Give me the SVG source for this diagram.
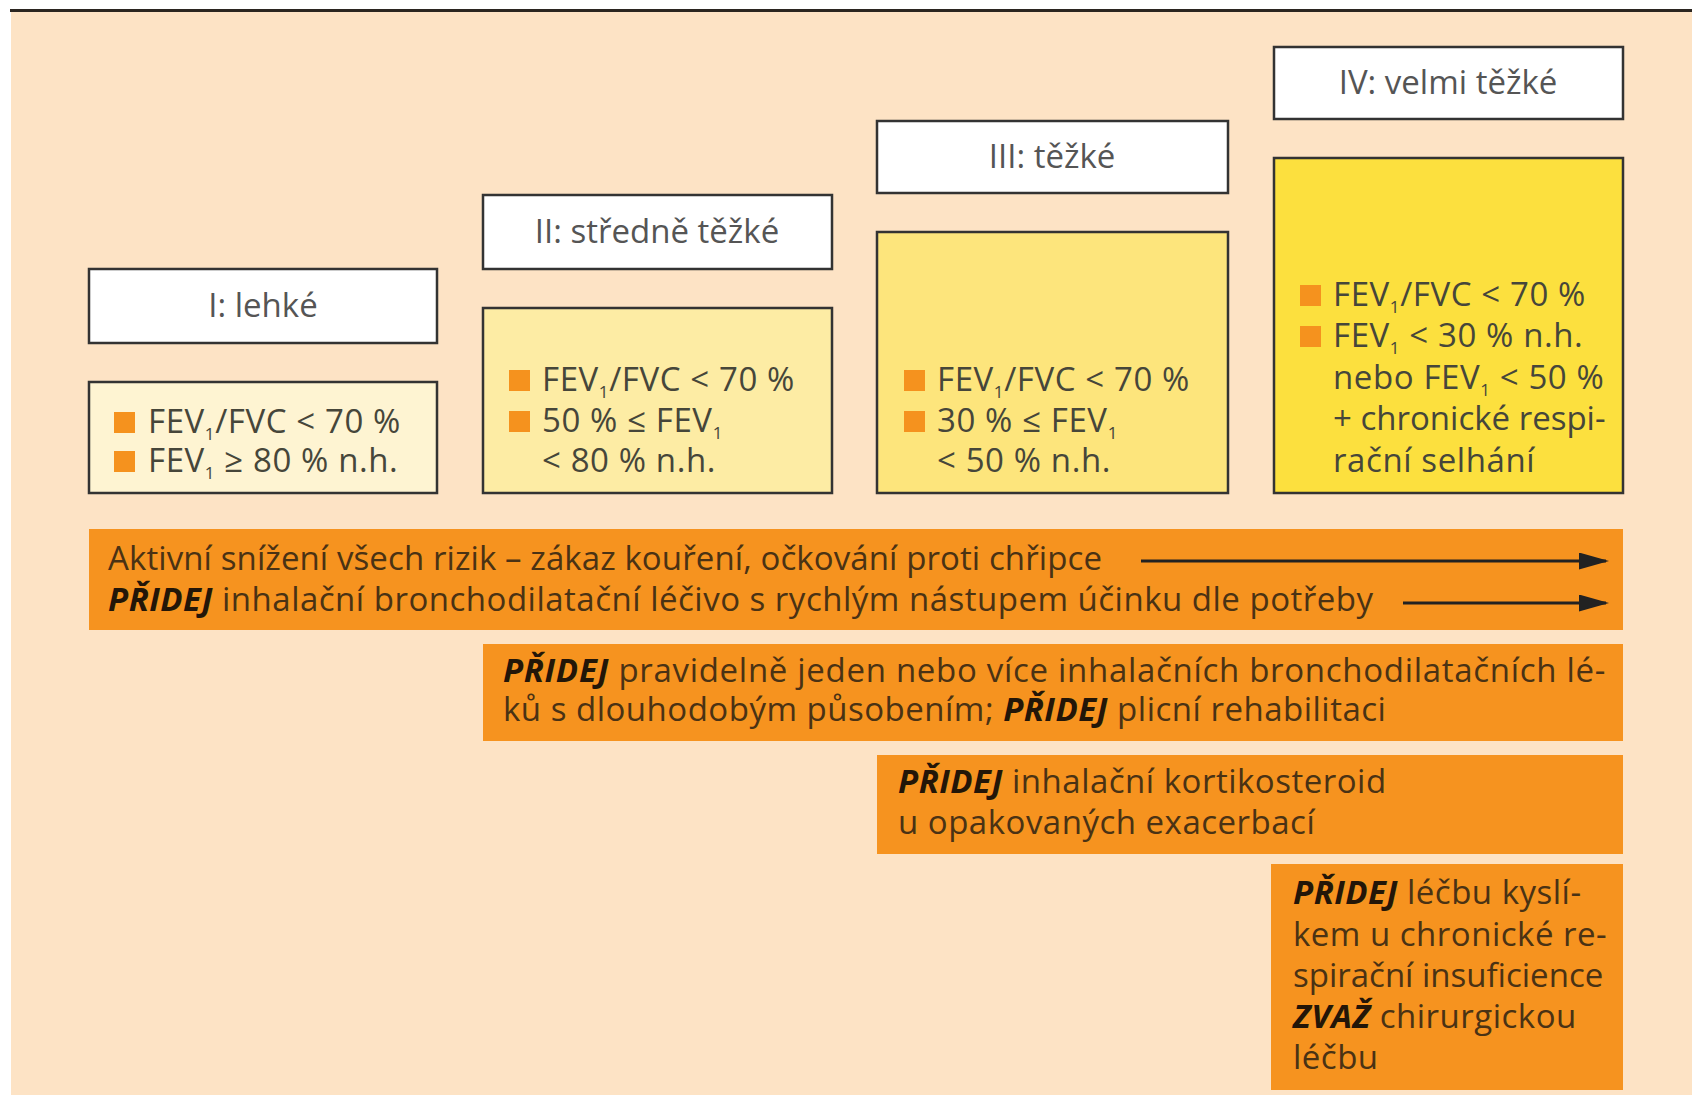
<svg xmlns="http://www.w3.org/2000/svg" width="1692" height="1095" viewBox="0 0 1692 1095">
<defs>
<style>
.hdr{fill:#fff;stroke:#333;stroke-width:2.5}
.body{stroke:#333;stroke-width:2.5}
.ht{font-family:"Open Sans","Liberation Sans",sans-serif;font-size:33px;fill:#555;text-anchor:middle}
.bt{font-family:"Open Sans","Liberation Sans",sans-serif;font-size:33px;letter-spacing:0.6px;fill:#46463a}
.bul{fill:#F5921E}
.band{fill:#F6931F}
.tx{font-family:"Open Sans","Liberation Sans",sans-serif;font-size:33px;letter-spacing:0.5px;fill:#4a3214}
.kw{font-weight:bold;font-style:italic;fill:#231608}
.sub{font-size:17px}
.arr{stroke:#222;stroke-width:3;fill:none}
</style>
<marker id="ah" viewBox="0 0 10 10" refX="9" refY="5" markerWidth="30" markerHeight="17" markerUnits="userSpaceOnUse" orient="auto" preserveAspectRatio="none">
<path d="M0,0 L10,5 L0,10 Z" fill="#222"/>
</marker>
</defs>
<rect x="0" y="0" width="1692" height="1095" fill="#fff"/>
<rect x="11" y="11" width="1681" height="1084" fill="#FDE3C5"/>
<line x1="10" y1="10.5" x2="1692" y2="10.5" stroke="#2b2520" stroke-width="3"/>

<g id="stage1">
<rect class="hdr" x="89" y="269" width="348" height="74"/>
<text class="ht" x="263" y="317">I: lehké</text>
<rect class="body" x="89" y="382" width="348" height="111" fill="#FEF4D2"/>
<rect class="bul" x="114" y="412" width="21" height="21"/>
<text class="bt" x="148" y="433">FEV<tspan class="sub" dy="7">1</tspan><tspan dy="-7">/FVC &lt; 70 %</tspan></text>
<rect class="bul" x="114" y="451" width="21" height="21"/>
<text class="bt" x="148" y="472">FEV<tspan class="sub" dy="7">1</tspan><tspan dy="-7"> ≥ 80 % n.h.</tspan></text>
</g>

<g id="stage2">
<rect class="hdr" x="483" y="195" width="349" height="74"/>
<text class="ht" x="657" y="243">II: středně těžké</text>
<rect class="body" x="483" y="308" width="349" height="185" fill="#FDECA4"/>
<rect class="bul" x="509" y="370" width="21" height="21"/>
<text class="bt" x="542" y="391">FEV<tspan class="sub" dy="7">1</tspan><tspan dy="-7">/FVC &lt; 70 %</tspan></text>
<rect class="bul" x="509" y="411" width="21" height="21"/>
<text class="bt" x="542" y="432">50 % ≤ FEV<tspan class="sub" dy="7">1</tspan></text>
<text class="bt" x="542" y="472">&lt; 80 % n.h.</text>
</g>

<g id="stage3">
<rect class="hdr" x="877" y="121" width="351" height="72"/>
<text class="ht" x="1052" y="168">III: těžké</text>
<rect class="body" x="877" y="232" width="351" height="261" fill="#FDE57C"/>
<rect class="bul" x="904" y="370" width="21" height="21"/>
<text class="bt" x="937" y="391">FEV<tspan class="sub" dy="7">1</tspan><tspan dy="-7">/FVC &lt; 70 %</tspan></text>
<rect class="bul" x="904" y="411" width="21" height="21"/>
<text class="bt" x="937" y="432">30 % ≤ FEV<tspan class="sub" dy="7">1</tspan></text>
<text class="bt" x="937" y="472">&lt; 50 % n.h.</text>
</g>

<g id="stage4">
<rect class="hdr" x="1274" y="47" width="349" height="72"/>
<text class="ht" x="1448" y="94">IV: velmi těžké</text>
<rect class="body" x="1274" y="158" width="349" height="335" fill="#FCE03E"/>
<rect class="bul" x="1300" y="285" width="21" height="21"/>
<text class="bt" x="1333" y="306">FEV<tspan class="sub" dy="7">1</tspan><tspan dy="-7">/FVC &lt; 70 %</tspan></text>
<rect class="bul" x="1300" y="326" width="21" height="21"/>
<text class="bt" x="1333" y="347">FEV<tspan class="sub" dy="7">1</tspan><tspan dy="-7"> &lt; 30 % n.h.</tspan></text>
<text class="bt" x="1333" y="389">nebo FEV<tspan class="sub" dy="7">1</tspan><tspan dy="-7"> &lt; 50 %</tspan></text>
<text class="bt" x="1333" y="430" style="letter-spacing:0">+ chronické respi-</text>
<text class="bt" x="1333" y="472">rační selhání</text>
</g>

<g id="band1">
<rect class="band" x="89" y="529" width="1534" height="101"/>
<text class="tx" x="108" y="570" style="letter-spacing:0.1px">Aktivní snížení všech rizik – zákaz kouření, očkování proti chřipce</text>
<text class="tx" x="108" y="611"><tspan class="kw">PŘIDEJ</tspan> inhalační bronchodilatační léčivo s rychlým nástupem účinku dle potřeby</text>
</g>

<g id="band2">
<rect class="band" x="483" y="644" width="1140" height="97"/>
<text class="tx" x="503" y="682" style="letter-spacing:0.7px"><tspan class="kw">PŘIDEJ</tspan> pravidelně jeden nebo více inhalačních bronchodilatačních lé-</text>
<text class="tx" x="503" y="721">ků s dlouhodobým působením; <tspan class="kw">PŘIDEJ</tspan> plicní rehabilitaci</text>
</g>

<g id="band3">
<rect class="band" x="877" y="755" width="746" height="99"/>
<text class="tx" x="898" y="793"><tspan class="kw">PŘIDEJ</tspan> inhalační kortikosteroid</text>
<text class="tx" x="898" y="834">u opakovaných exacerbací</text>
</g>

<g id="band4">
<rect class="band" x="1271" y="864" width="352" height="226"/>
<text class="tx" x="1293" y="904"><tspan class="kw">PŘIDEJ</tspan> léčbu kyslí-</text>
<text class="tx" x="1293" y="946">kem u chronické re-</text>
<text class="tx" x="1293" y="987" style="letter-spacing:0">spirační insuficience</text>
<text class="tx" x="1293" y="1028"><tspan class="kw">ZVAŽ</tspan> chirurgickou</text>
<text class="tx" x="1293" y="1069">léčbu</text>
</g>

<g id="connectors">
<line class="arr" x1="1141" y1="561" x2="1606" y2="561" marker-end="url(#ah)"/>
<line class="arr" x1="1403" y1="603" x2="1606" y2="603" marker-end="url(#ah)"/>
</g>
</svg>
